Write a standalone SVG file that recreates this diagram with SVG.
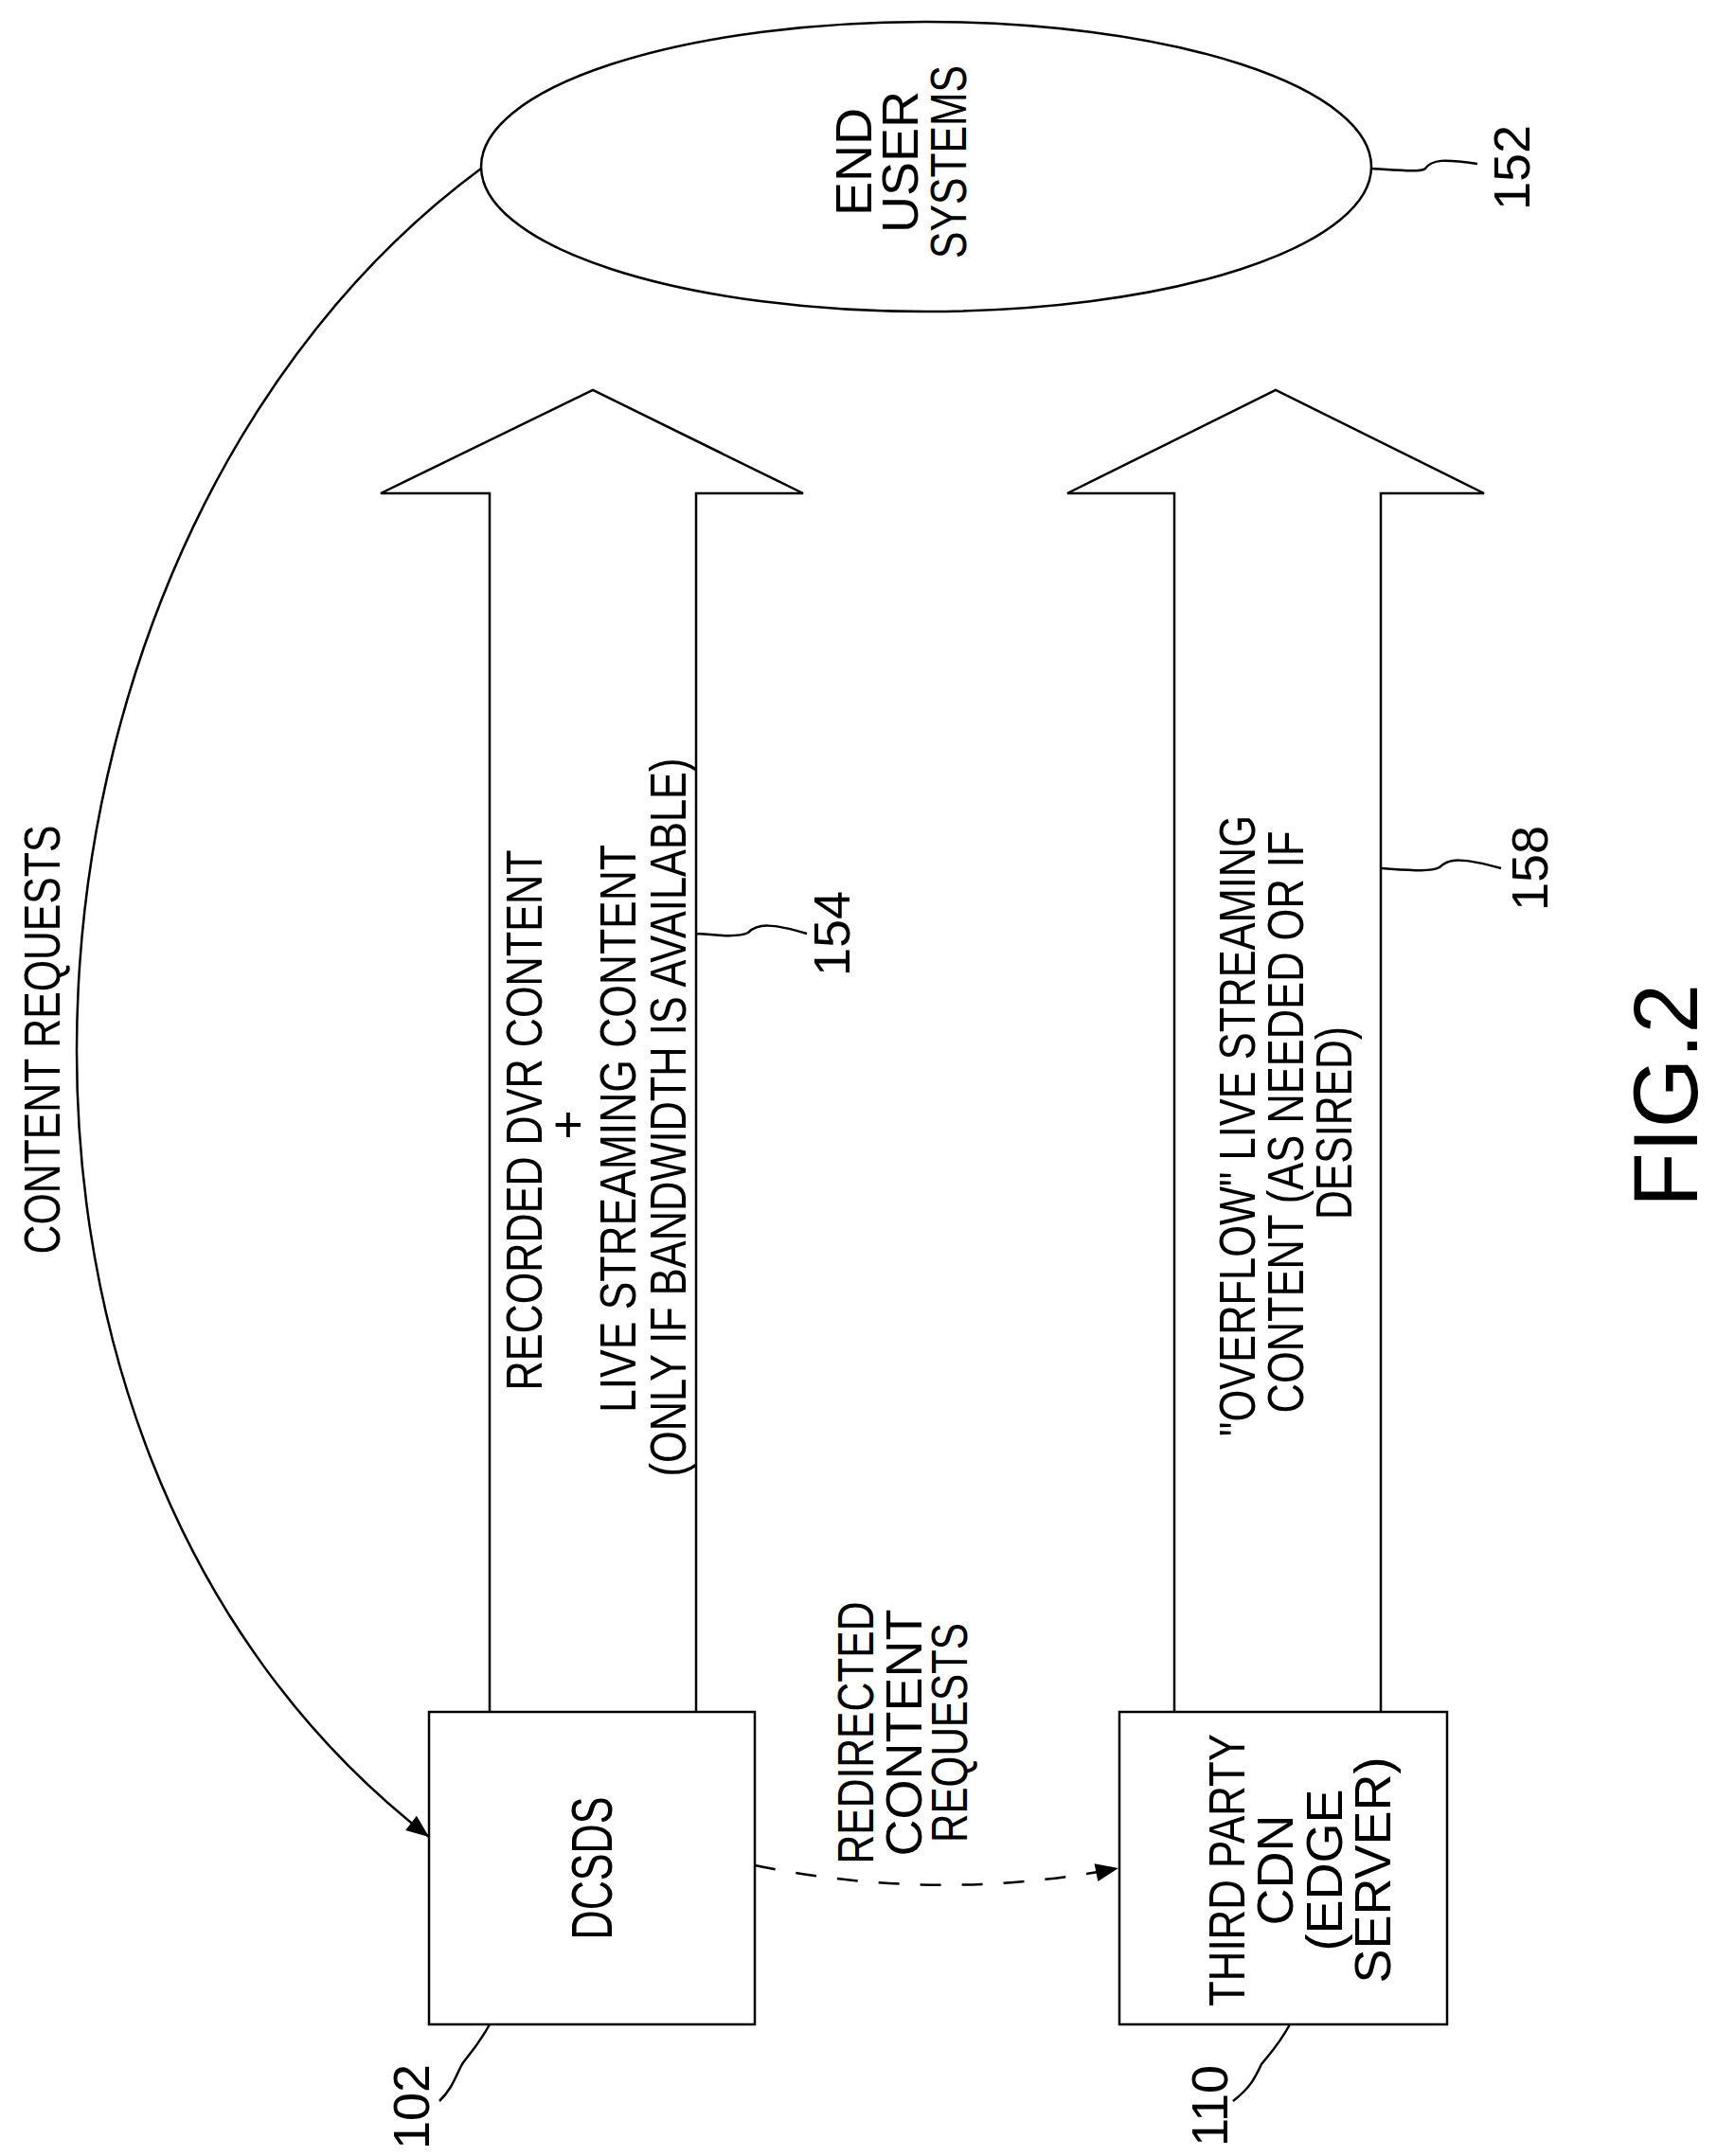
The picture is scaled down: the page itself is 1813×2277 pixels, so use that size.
<svg xmlns="http://www.w3.org/2000/svg" width="1813" height="2277" viewBox="0 0 1813 2277">
<defs>
<style>
.s{fill:none;stroke:#000;stroke-width:2.5}
.t{font-family:"Liberation Sans",Arial,sans-serif;font-size:54px;fill:#000;text-anchor:middle}
.l{font-family:"Liberation Sans",Arial,sans-serif;font-size:54px;fill:#000;text-anchor:middle}
</style>
<marker id="ah" viewBox="0 0 10 10" refX="10" refY="5" markerWidth="32" markerHeight="24" markerUnits="userSpaceOnUse" orient="auto"><path d="M0,1 L10,5 L0,9 Z" fill="#000"/></marker>
</defs>
<rect width="1813" height="2277" fill="#fff"/>

<g id="end-user-systems">
<ellipse class="s" cx="978" cy="176" rx="470" ry="153"/>
<text class="t" transform="translate(920,171) rotate(-90)">END</text>
<text class="t" transform="translate(969,171) rotate(-90)">USER</text>
<text class="t" transform="translate(1020,171) rotate(-90)" textLength="204" lengthAdjust="spacingAndGlyphs">SYSTEMS</text>
<path class="s" d="M1448,178 C1480,180 1500,182 1505,178 C1512,168 1525,168 1560,173"/>
<text class="l" transform="translate(1615,177) rotate(-90)">152</text>
</g>

<g id="arrow-154">
<path class="s" d="M517,1808 L517,521 L402,521 L626,412 L848,521 L735,521 L735,1808"/>
<text class="t" transform="translate(572,1183) rotate(-90)" textLength="571" lengthAdjust="spacingAndGlyphs">RECORDED DVR CONTENT</text>
<text class="t" transform="translate(618,1188) rotate(-90)">+</text>
<text class="t" transform="translate(671,1192) rotate(-90)" textLength="600" lengthAdjust="spacingAndGlyphs">LIVE STREAMING CONTENT</text>
<text class="t" transform="translate(724,1180) rotate(-90)" textLength="759" lengthAdjust="spacingAndGlyphs">(ONLY IF BANDWIDTH IS AVAILABLE)</text>
<path class="s" d="M735,986 C760,988 780,990 790,985 C800,975 815,975 852,986"/>
<text class="l" transform="translate(897,986) rotate(-90)">154</text>
</g>

<g id="arrow-158">
<path class="s" d="M1240,1808 L1240,521 L1127,521 L1347,412 L1567,521 L1458,521 L1458,1808"/>
<text class="t" transform="translate(1325,1189) rotate(-90)" textLength="656" lengthAdjust="spacingAndGlyphs">"OVERFLOW" LIVE STREAMING</text>
<text class="t" transform="translate(1376,1185) rotate(-90)" textLength="615" lengthAdjust="spacingAndGlyphs">CONTENT (AS NEEDED OR IF</text>
<text class="t" transform="translate(1427,1186) rotate(-90)" textLength="204" lengthAdjust="spacingAndGlyphs">DESIRED)</text>
<path class="s" d="M1458,917 C1490,919 1510,921 1520,916 C1530,906 1545,906 1585,917"/>
<text class="l" transform="translate(1634,917) rotate(-90)">158</text>
</g>

<g id="dcsds">
<rect class="s" x="453" y="1808" width="344" height="330"/>
<text class="t" style="font-size:62px" transform="translate(646,1973) rotate(-90)" textLength="151" lengthAdjust="spacingAndGlyphs">DCSDS</text>
<path class="s" d="M517,2138 C505,2160 495,2170 488,2180 C480,2195 478,2205 464,2219"/>
<text class="l" transform="translate(453,2225) rotate(-90)">102</text>
</g>

<g id="third-party-cdn">
<rect class="s" x="1182" y="1808" width="346" height="330"/>
<text class="t" transform="translate(1314,1975) rotate(-90)" textLength="288" lengthAdjust="spacingAndGlyphs">THIRD PARTY</text>
<text class="t" transform="translate(1365,1975) rotate(-90)">CDN</text>
<text class="t" transform="translate(1417,1975) rotate(-90)">(EDGE</text>
<text class="t" transform="translate(1468,1975) rotate(-90)">SERVER)</text>
<path class="s" d="M1362,2138 C1350,2160 1340,2170 1332,2180 C1325,2195 1320,2205 1302,2219"/>
<text class="l" transform="translate(1296,2224) rotate(-90)">110</text>
</g>

<g id="connectors">
<path class="s" d="M508,178 C-10,560 -90,1520 453,1940" marker-end="url(#ah)"/>
<path class="s" d="M797,1970 Q990,2010 1181,1973" stroke-dasharray="22,22" marker-end="url(#ah)"/>
</g>

<g id="labels">
<text class="t" transform="translate(63,1098) rotate(-90)" textLength="453" lengthAdjust="spacingAndGlyphs">CONTENT REQUESTS</text>
<text class="t" transform="translate(922,1830) rotate(-90)" textLength="277" lengthAdjust="spacingAndGlyphs">REDIRECTED</text>
<text class="t" transform="translate(973,1830) rotate(-90)">CONTENT</text>
<text class="t" transform="translate(1021,1830) rotate(-90)" textLength="232" lengthAdjust="spacingAndGlyphs">REQUESTS</text>
<text class="t" style="font-size:96px" transform="translate(1792,1157) rotate(-90)" textLength="236" lengthAdjust="spacingAndGlyphs">FIG.2</text>
</g>
</svg>
